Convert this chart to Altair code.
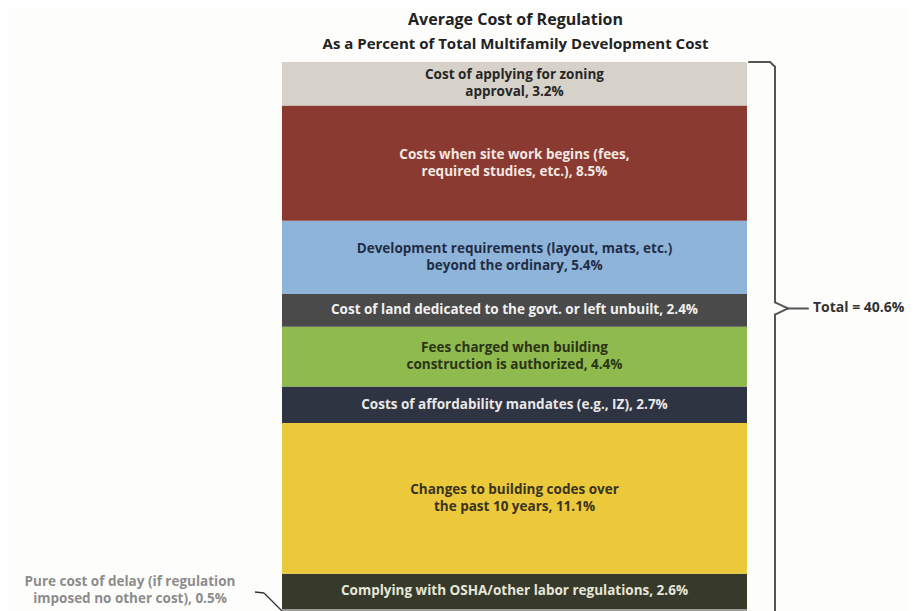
import altair as alt
import pandas as pd

# ---- data (top of the stack first) ----
names = [
    "Cost of applying for zoning\napproval",
    "Costs when site work begins (fees,\nrequired studies, etc.)",
    "Development requirements (layout, mats, etc.)\nbeyond the ordinary",
    "Cost of land dedicated to the govt. or left unbuilt",
    "Fees charged when building\nconstruction is authorized",
    "Costs of affordability mandates (e.g., IZ)",
    "Changes to building codes over\nthe past 10 years",
    "Complying with OSHA/other labor regulations",
    "Pure cost of delay (if regulation\nimposed no other cost)",
]
values = [3.2, 8.5, 5.4, 2.4, 4.4, 2.7, 11.1, 2.6, 0.5]
fills = ["#d6d1c9", "#8a3a31", "#8fb4da", "#4a4a4a", "#8fba4d",
         "#2e3441", "#ecc93b", "#373a2b", "#9a9a9a"]
text_colors = ["#262626", "#f3e8e2", "#1f2d45", "#f0f0f0", "#2b3318",
               "#e8e8e8", "#3a3320", "#e6e6d8", "#8c8c8c"]
total_label = "Total = 40.6%"
title_lines = ["Average Cost of Regulation",
               "As a Percent of Total Multifamily Development Cost"]

# ---- build stacked table (bottom of stack = last item) ----
rows = []
cum = 0.0
for n, v, f, tc in reversed(list(zip(names, values, fills, text_colors))):
    rows.append({"name": n, "value": v, "y0": cum, "y1": cum + v,
                 "mid": cum + v / 2, "fill": f, "tcolor": tc,
                 "label": f"{n}, {v}%", "lines": n.count("\n") + 1})
    cum += v
df = pd.DataFrame(rows)
stack_top = cum
inside = df[df["name"] != names[-1]]
one_line = inside[inside["lines"] == 1]
two_line = inside[inside["lines"] == 2]
outside = df[df["name"] == names[-1]]

W, H = 899, 603
yscale = alt.Scale(domain=[0.35, 44.78], nice=False, zero=False)
BX0, BX1 = 274, 739
BXC = (BX0 + BX1) / 2
FONT = "Open Sans"
LH = 17
FS = 13.5

bars = alt.Chart(df).mark_rect(clip=True).encode(
    x=alt.value(BX0), x2=alt.value(BX1),
    y=alt.Y("y0:Q", scale=yscale, axis=None), y2="y1:Q",
    color=alt.Color("fill:N", scale=None),
)

def label_layer(data, dy):
    return alt.Chart(data).mark_text(
        font=FONT, fontWeight="bold", fontSize=FS, lineBreak="\n",
        lineHeight=LH, align="center", baseline="middle", dy=dy,
    ).encode(
        x=alt.value(BXC),
        y=alt.Y("mid:Q", scale=yscale, axis=None),
        text="label:N",
        color=alt.Color("tcolor:N", scale=None),
    )

labels1 = label_layer(one_line, 0)
labels2 = label_layer(two_line, -LH / 2)

# annotation for the small delay segment
delay_label = alt.Chart(outside).mark_text(
    font=FONT, fontWeight="bold", fontSize=FS, lineBreak="\n",
    lineHeight=LH, align="center", baseline="middle", color="#8c8c8c",
).encode(x=alt.value(122), y=alt.value(574), text="label:N")

lead_df = pd.DataFrame({"a": [0]})
lead1 = alt.Chart(lead_df).mark_rule(color="#333333", strokeWidth=1.3).encode(
    x=alt.value(247), x2=alt.value(256), y=alt.value(584), y2=alt.value(585))
lead2 = alt.Chart(lead_df).mark_rule(color="#333333", strokeWidth=1.3).encode(
    x=alt.value(256), x2=alt.value(274), y=alt.value(585), y2=alt.value(603))

# ---- brace ----
tip = stack_top * 0.555
BRX = 767
brace_df = pd.DataFrame({
    "x":  [741, 762, BRX, BRX, BRX, 780, BRX],
    "x2": [762, BRX, BRX, 780, 780, 800, BRX],
    "y":  [stack_top, stack_top, stack_top - 0.35, tip + 0.45, tip - 0.45, tip, tip - 0.45],
    "y2": [stack_top, stack_top - 0.35, tip + 0.45, tip, tip, tip, 0.0],
})
brace = alt.Chart(brace_df).mark_rule(
    color="#555555", strokeWidth=2, strokeCap="round", clip=True
).encode(
    x=alt.X("x:Q", scale=alt.Scale(domain=[0, W], range=[0, W], nice=False, zero=False), axis=None),
    x2="x2:Q",
    y=alt.Y("y:Q", scale=yscale, axis=None), y2="y2:Q",
)

total_txt = alt.Chart(pd.DataFrame({"t": [total_label], "y": [tip]})).mark_text(
    font=FONT, fontWeight="bold", fontSize=14, align="left",
    baseline="middle", color="#333333",
).encode(x=alt.value(805), y=alt.Y("y:Q", scale=yscale, axis=None), text="t:N")

title_df = pd.DataFrame({"t": title_lines, "y": [11.5, 35.5], "s": [16, 15]})
titles = alt.Chart(title_df).mark_text(
    font=FONT, fontWeight="bold", align="center", baseline="middle",
    color="#222222",
).encode(x=alt.value(BXC + 1), y=alt.Y("y:Q", scale=None), text="t:N",
         size=alt.Size("s:Q", scale=None, legend=None))

chart = alt.layer(bars, labels1, labels2, delay_label, lead1, lead2, brace,
                  total_txt, titles).properties(
    width=W, height=H, padding=0,
    autosize=alt.AutoSizeParams(type="none"),
    background="#fdfdfc",
).configure_view(stroke=None)

chart.save("out.html", embed_options={"renderer": "svg", "actions": False})
